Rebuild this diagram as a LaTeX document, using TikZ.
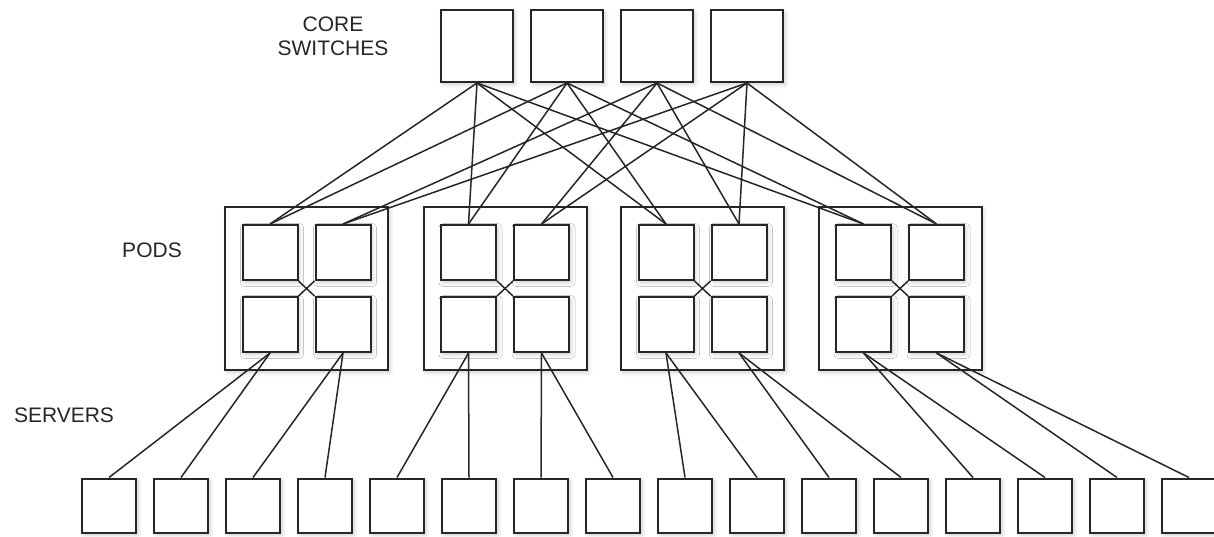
\documentclass[tikz,border=0pt]{standalone}
\usepackage{fontspec}
\setmainfont{Liberation Sans}
\usetikzlibrary{shadows.blur}

\begin{document}
\begin{tikzpicture}[x=1pt, y=-1pt, line width=1.5pt]
   \useasboundingbox (0,0) rectangle (1214,536);
   \tikzset{
    box/.style={draw=black!85, fill=white, inner sep=0pt, minimum size=#1, line width=2pt,
      blur shadow={shadow xshift=2pt, shadow yshift=-2.5pt, shadow blur radius=4pt, shadow opacity=20}},
    layer/.style={font=\fontsize{21}{24}\selectfont, text=black!85, align=center}
   }
   % layer titles
   \node[layer] (tcore) at (333,36) {CORE\\SWITCHES};
   \node[layer] (tpods) at (152,250) {PODS};
   \node[layer] (tserv) at (64,415) {SERVERS};
   % core switches
   \begin{scope}[every node/.style={box=72}]
    \node (c1) at (477,46) {};
    \node (c2) at (567,46) {};
    \node (c3) at (657,46) {};
    \node (c4) at (747,46) {};
   \end{scope}
   % pods: outer frame, then four switches
   \begin{scope}[every node/.style={box=163}]
    \node (p1) at (306.5,288.5) {};
    \node (p2) at (505,288.5) {};
    \node (p3) at (702.5,288.5) {};
    \node (p4) at (900,288.5) {};
   \end{scope}
   \begin{scope}[every node/.style={box=55}]
    \node (p1a) at (270,252.5) {};
    \node (p1b) at (343,252.5) {};
    \node (p1c) at (270,324.5) {};
    \node (p1d) at (343,324.5) {};
    \node (p2a) at (468.5,252.5) {};
    \node (p2b) at (541.5,252.5) {};
    \node (p2c) at (468.5,324.5) {};
    \node (p2d) at (541.5,324.5) {};
    \node (p3a) at (666,252.5) {};
    \node (p3b) at (739,252.5) {};
    \node (p3c) at (666,324.5) {};
    \node (p3d) at (739,324.5) {};
    \node (p4a) at (863.5,252.5) {};
    \node (p4b) at (936.5,252.5) {};
    \node (p4c) at (863.5,324.5) {};
    \node (p4d) at (936.5,324.5) {};
   \end{scope}
   % servers
   \begin{scope}[every node/.style={box=54}]
    \node (s1) at (109,505.5) {};
    \node (s2) at (181,505.5) {};
    \node (s3) at (253,505.5) {};
    \node (s4) at (325,505.5) {};
    \node (s5) at (397,505.5) {};
    \node (s6) at (469,505.5) {};
    \node (s7) at (541,505.5) {};
    \node (s8) at (613,505.5) {};
    \node (s9) at (685,505.5) {};
    \node (s10) at (757,505.5) {};
    \node (s11) at (829,505.5) {};
    \node (s12) at (901,505.5) {};
    \node (s13) at (973,505.5) {};
    \node (s14) at (1045,505.5) {};
    \node (s15) at (1117,505.5) {};
    \node (s16) at (1189,505.5) {};
   \end{scope}
   \begin{scope}[every edge/.style={draw=black!85,line width=1.5pt}]
    % crossings inside each pod
    \draw (p1a.south east) edge (p1d.north west) (p1b.south west) edge (p1c.north east);
    \draw (p2a.south east) edge (p2d.north west) (p2b.south west) edge (p2c.north east);
    \draw (p3a.south east) edge (p3d.north west) (p3b.south west) edge (p3c.north east);
    \draw (p4a.south east) edge (p4d.north west) (p4b.south west) edge (p4c.north east);
    % core to pods
    \draw (c1.south) edge (p1a.north) edge (p2a.north) edge (p3a.north) edge (p4a.north);
    \draw (c2.south) edge (p1a.north) edge (p2a.north) edge (p3a.north) edge (p4a.north);
    \draw (c3.south) edge (p1b.north) edge (p2b.north) edge (p3b.north) edge (p4b.north);
    \draw (c4.south) edge (p1b.north) edge (p2b.north) edge (p3b.north) edge (p4b.north);
    % pods to servers
    \draw (p1c.south) edge (s1.north) edge (s2.north);
    \draw (p1d.south) edge (s3.north) edge (s4.north);
    \draw (p2c.south) edge (s5.north) edge (s6.north);
    \draw (p2d.south) edge (s7.north) edge (s8.north);
    \draw (p3c.south) edge (s9.north) edge (s10.north);
    \draw (p3d.south) edge (s11.north) edge (s12.north);
    \draw (p4c.south) edge (s13.north) edge (s14.north);
    \draw (p4d.south) edge (s15.north) edge (s16.north);
   \end{scope}
\end{tikzpicture}
\end{document}
